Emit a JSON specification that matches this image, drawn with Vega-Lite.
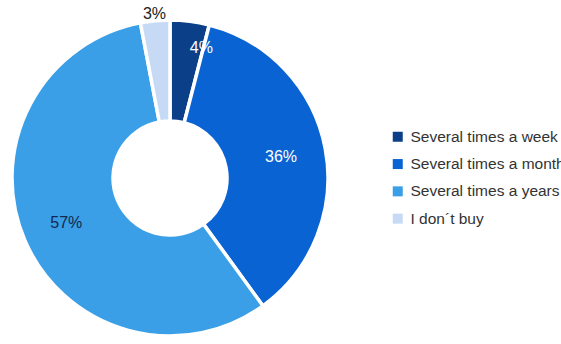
{
  "$schema": "https://vega.github.io/schema/vega-lite/v6.json",
  "width": 340,
  "height": 356,
  "autosize": {"type": "pad"},
  "padding": 0,
  "background": "white",
  "config": {"view": {"stroke": null}, "font": "Liberation Sans"},
  "data": {
    "values": [
      {"cat": "Several times a week", "value": 4, "label": "4%", "order": 1},
      {"cat": "Several times a month", "value": 36, "label": "36%", "order": 2},
      {"cat": "Several times a years", "value": 57, "label": "57%", "order": 3},
      {"cat": "I don´t buy", "value": 3, "label": "3%", "order": 4}
    ]
  },
  "encoding": {
    "theta": {"field": "value", "type": "quantitative", "stack": true},
    "order": {"field": "order", "type": "quantitative"}
  },
  "layer": [
    {
      "mark": {"type": "arc", "innerRadius": 57, "outerRadius": 158, "stroke": "white", "strokeWidth": 3.5},
      "encoding": {
        "color": {
          "field": "cat",
          "type": "nominal",
          "scale": {
            "domain": ["Several times a week", "Several times a month", "Several times a years", "I don´t buy"],
            "range": ["#0b3f88", "#0a63d2", "#3a9fe6", "#c6daf6"]
          },
          "legend": {
            "title": null,
            "orient": "none",
            "legendX": 390,
            "legendY": 129,
            "symbolType": "square",
            "symbolSize": 100,
            "symbolStrokeWidth": 0,
            "labelFontSize": 15.5,
            "labelColor": "#333333",
            "labelFont": "Liberation Sans",
            "labelLimit": 400,
            "labelOffset": 5,
            "rowPadding": 10.3
          }
        }
      }
    },
    {
      "mark": {"type": "text", "radius": 113, "fontSize": 16},
      "encoding": {
        "text": {"field": "label"},
        "opacity": {"condition": {"test": "datum.order == 2 || datum.order == 3", "value": 1}, "value": 0},
        "color": {"condition": {"test": "datum.order == 2", "value": "white"}, "value": "#14284f"}
      }
    },
    {
      "mark": {"type": "text", "radius": 131, "dx": 15, "fontSize": 16, "color": "white"},
      "encoding": {
        "text": {"field": "label"},
        "opacity": {"condition": {"test": "datum.order == 1", "value": 1}, "value": 0}
      }
    },
    {
      "mark": {"type": "text", "radius": 165, "fontSize": 16, "color": "#222222"},
      "encoding": {
        "text": {"field": "label"},
        "opacity": {"condition": {"test": "datum.order == 4", "value": 1}, "value": 0}
      }
    }
  ]
}
